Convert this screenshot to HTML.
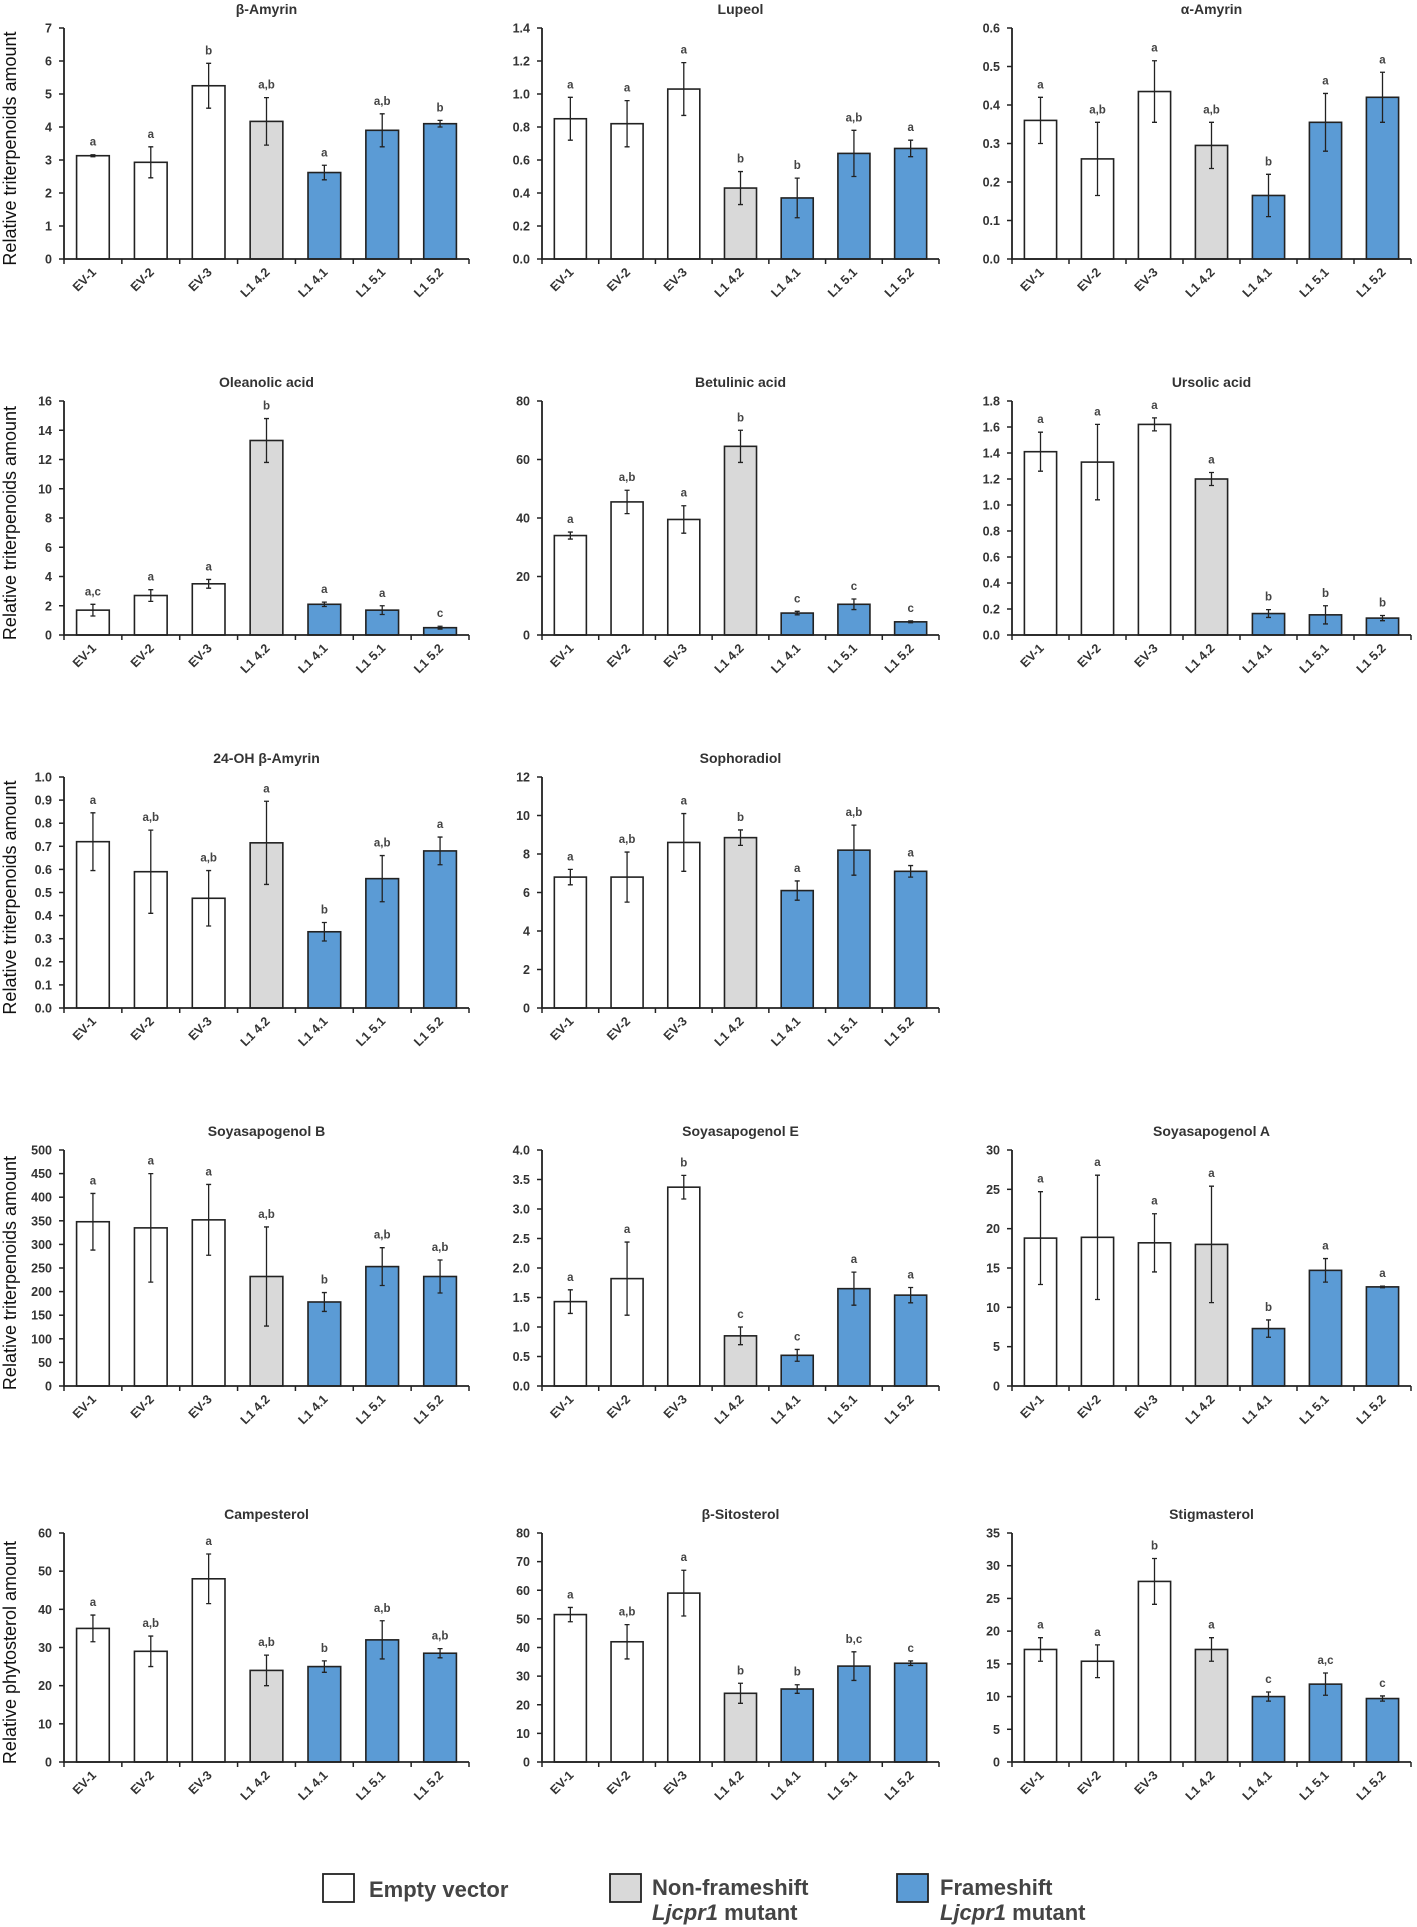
<!DOCTYPE html>
<html><head><meta charset="utf-8"><style>
html,body{margin:0;padding:0;background:#fff;}
svg{display:block;font-family:"Liberation Sans",Arial,sans-serif;}
</style></head><body>
<svg id="fig" width="1417" height="1927" viewBox="0 0 1417 1927" xmlns="http://www.w3.org/2000/svg"></svg>
<script>
const categories = ["EV-1","EV-2","EV-3","L1 4.2","L1 4.1","L1 5.1","L1 5.2"];
const groupOf = [0,0,0,1,2,2,2];
const titles = ["β-Amyrin","Lupeol","α-Amyrin","Oleanolic acid","Betulinic acid","Ursolic acid","24-OH β-Amyrin","Sophoradiol","Soyasapogenol B","Soyasapogenol E","Soyasapogenol A","Campesterol","β-Sitosterol","Stigmasterol"];
const yMax = [7,1.4,0.6,16,80,1.8,1.0,12,500,4.0,30,60,80,35];
const yStep = [1,0.2,0.1,2,20,0.2,0.1,2,50,0.5,5,10,10,5];
const yDec = [0,1,1,0,0,1,1,0,0,1,0,0,0,0];
const values = [
 [3.13,2.93,5.25,4.17,2.62,3.9,4.1],
 [0.85,0.82,1.03,0.43,0.37,0.64,0.67],
 [0.36,0.26,0.435,0.295,0.165,0.355,0.42],
 [1.7,2.7,3.5,13.3,2.1,1.7,0.5],
 [34,45.5,39.5,64.5,7.5,10.5,4.5],
 [1.41,1.33,1.62,1.2,0.165,0.155,0.13],
 [0.72,0.59,0.475,0.715,0.33,0.56,0.68],
 [6.8,6.8,8.6,8.85,6.1,8.2,7.1],
 [348,335,352,232,178,253,232],
 [1.43,1.82,3.37,0.85,0.52,1.65,1.54],
 [18.8,18.9,18.2,18,7.3,14.7,12.6],
 [35,29,48,24,25,32,28.5],
 [51.5,42,59,24,25.5,33.5,34.5],
 [17.2,15.4,27.6,17.2,10,11.9,9.7]
];
const errors = [
 [0.03,0.47,0.68,0.72,0.22,0.5,0.1],
 [0.13,0.14,0.16,0.1,0.12,0.14,0.05],
 [0.06,0.095,0.08,0.06,0.055,0.075,0.065],
 [0.4,0.4,0.3,1.5,0.15,0.3,0.1],
 [1.2,4,4.7,5.5,0.6,1.8,0.3],
 [0.15,0.29,0.05,0.05,0.03,0.07,0.02],
 [0.125,0.18,0.12,0.18,0.04,0.1,0.06],
 [0.4,1.3,1.5,0.4,0.5,1.3,0.3],
 [60,115,75,105,20,40,35],
 [0.2,0.62,0.2,0.15,0.1,0.28,0.13],
 [5.9,7.9,3.7,7.4,1.1,1.5,0.1],
 [3.5,4,6.5,4,1.5,5,1.2],
 [2.5,6,8,3.5,1.5,5,0.8],
 [1.8,2.5,3.5,1.8,0.7,1.7,0.4]
];
const letters = [
 ["a","a","b","a,b","a","a,b","b"],
 ["a","a","a","b","b","a,b","a"],
 ["a","a,b","a","a,b","b","a","a"],
 ["a,c","a","a","b","a","a","c"],
 ["a","a,b","a","b","c","c","c"],
 ["a","a","a","a","b","b","b"],
 ["a","a,b","a,b","a","b","a,b","a"],
 ["a","a,b","a","b","a","a,b","a"],
 ["a","a","a","a,b","b","a,b","a,b"],
 ["a","a","b","c","c","a","a"],
 ["a","a","a","a","b","a","a"],
 ["a","a,b","a","a,b","b","a,b","a,b"],
 ["a","a,b","a","b","b","b,c","c"],
 ["a","a","b","a","c","a,c","c"]
];
const panelPos = [[0,0],[0,1],[0,2],[1,0],[1,1],[1,2],[2,0],[2,1],[3,0],[3,1],[3,2],[4,0],[4,1],[4,2]];
const colX = [[64,469],[542,939],[1012,1411]];
const rowY = [[28,259],[401,635],[777,1008],[1150,1386],[1533,1762]];
const fills = ["#ffffff","#d9d9d9","#5b9bd5"];
const NS = "http://www.w3.org/2000/svg";
const svg = document.getElementById("fig");
function mk(tag, attrs, parent, text){
  const e = document.createElementNS(NS, tag);
  for (const k in attrs) e.setAttribute(k, attrs[k]);
  if (text !== undefined) e.textContent = text;
  (parent||svg).appendChild(e);
  return e;
}
titles.forEach((t, p) => {
  const [r, c] = panelPos[p];
  const x0 = colX[c][0], x1 = colX[c][1], yTop = rowY[r][0], yZero = rowY[r][1];
  const g = mk("g", {});
  
  
  const yS = v => yZero - v / yMax[p] * (yZero - yTop);
  const band = (x1 - x0) / categories.length;
  const xC = i => x0 + band * (i + 0.5);
  const bw = band * 0.565;
  const ti = mk("text", {x:(x0+x1)/2, y:yTop-14, "text-anchor":"middle", "font-size":"14", "font-weight":"bold", fill:"#333"}, g, t);
  
  
  // bars
  values[p].forEach((v, i) => {
    const b = mk("rect", {x:xC(i)-bw/2, y:yS(v), width:bw, height:yZero-yS(v), fill:fills[groupOf[i]], stroke:"#222", "stroke-width":"1.6"}, g);
    
    
    const e = errors[p][i];
    const eb = mk("path", {d:`M${xC(i)},${yS(v-e)}V${yS(v+e)}M${xC(i)-2.5},${yS(v-e)}h5M${xC(i)-2.5},${yS(v+e)}h5`, stroke:"#222", "stroke-width":"1.3", fill:"none"}, g);
    
    
    const lt = mk("text", {x:xC(i), y:yS(v+e)-9, "text-anchor":"middle", "font-size":"11.5", "font-weight":"bold", fill:"#444"}, g, letters[p][i]);
    
    
    const xl = mk("text", {transform:`translate(${xC(i)+4},${yZero+14}) rotate(-45)`, "text-anchor":"end", "font-size":"12.5", "font-weight":"bold", fill:"#333"}, g, categories[i]);
    
    
  });
  // axes
  const ax = mk("path", {d:`M${x0},${yTop}V${yZero}H${x1}`, stroke:"#222", "stroke-width":"1.8", fill:"none"}, g);
  
  
  for (let i = 0; i <= categories.length; i++) {
    mk("line", {x1:x0+band*i, x2:x0+band*i, y1:yZero, y2:yZero+5, stroke:"#222", "stroke-width":"1.5"}, g);
  }
  const n = Math.round(yMax[p] / yStep[p]);
  for (let k = 0; k <= n; k++) {
    const v = k * yStep[p];
    mk("line", {x1:x0-5, x2:x0, y1:yS(v), y2:yS(v), stroke:"#222", "stroke-width":"1.5"}, g);
    const tl = mk("text", {x:x0-12, y:yS(v)+4.5, "text-anchor":"end", "font-size":"12.5", "font-weight":"bold", fill:"#333"}, g, v.toFixed(yDec[p]));
    
    
  }
  if (c === 0) {
    const lab = r === 4 ? "Relative phytosterol amount" : "Relative triterpenoids amount";
    const yl = mk("text", {transform:`translate(16,${(yTop+yZero)/2+5}) rotate(-90)`, "text-anchor":"middle", "font-size":"18", fill:"#111"}, g, lab);
    
    
  }
});
</script>
<svg width="1417" height="100" viewBox="0 1827 1417 100" style="position:absolute;left:0;top:1827px" xmlns="http://www.w3.org/2000/svg">
  <g>
    <rect x="323" y="1874" width="31" height="28" fill="#fff" stroke="#222" stroke-width="1.8"/>
    <text x="369" y="1897" font-size="22" font-weight="bold" fill="#444" font-family="Liberation Sans, sans-serif">Empty vector</text>
  </g>
  <g>
    <rect x="610" y="1874" width="31" height="28" fill="#d9d9d9" stroke="#222" stroke-width="1.8"/>
    <text x="652" y="1895" font-size="22" font-weight="bold" fill="#444" font-family="Liberation Sans, sans-serif">Non-frameshift</text>
    <text x="652" y="1920" font-size="22" font-weight="bold" fill="#444" font-family="Liberation Sans, sans-serif"><tspan font-style="italic">Ljcpr1</tspan> mutant</text>
  </g>
  <g>
    <rect x="897" y="1874" width="31" height="28" fill="#5b9bd5" stroke="#222" stroke-width="1.8"/>
    <text x="940" y="1895" font-size="22" font-weight="bold" fill="#444" font-family="Liberation Sans, sans-serif">Frameshift</text>
    <text x="940" y="1920" font-size="22" font-weight="bold" fill="#444" font-family="Liberation Sans, sans-serif"><tspan font-style="italic">Ljcpr1</tspan> mutant</text>
  </g>
</svg>
</body></html>
